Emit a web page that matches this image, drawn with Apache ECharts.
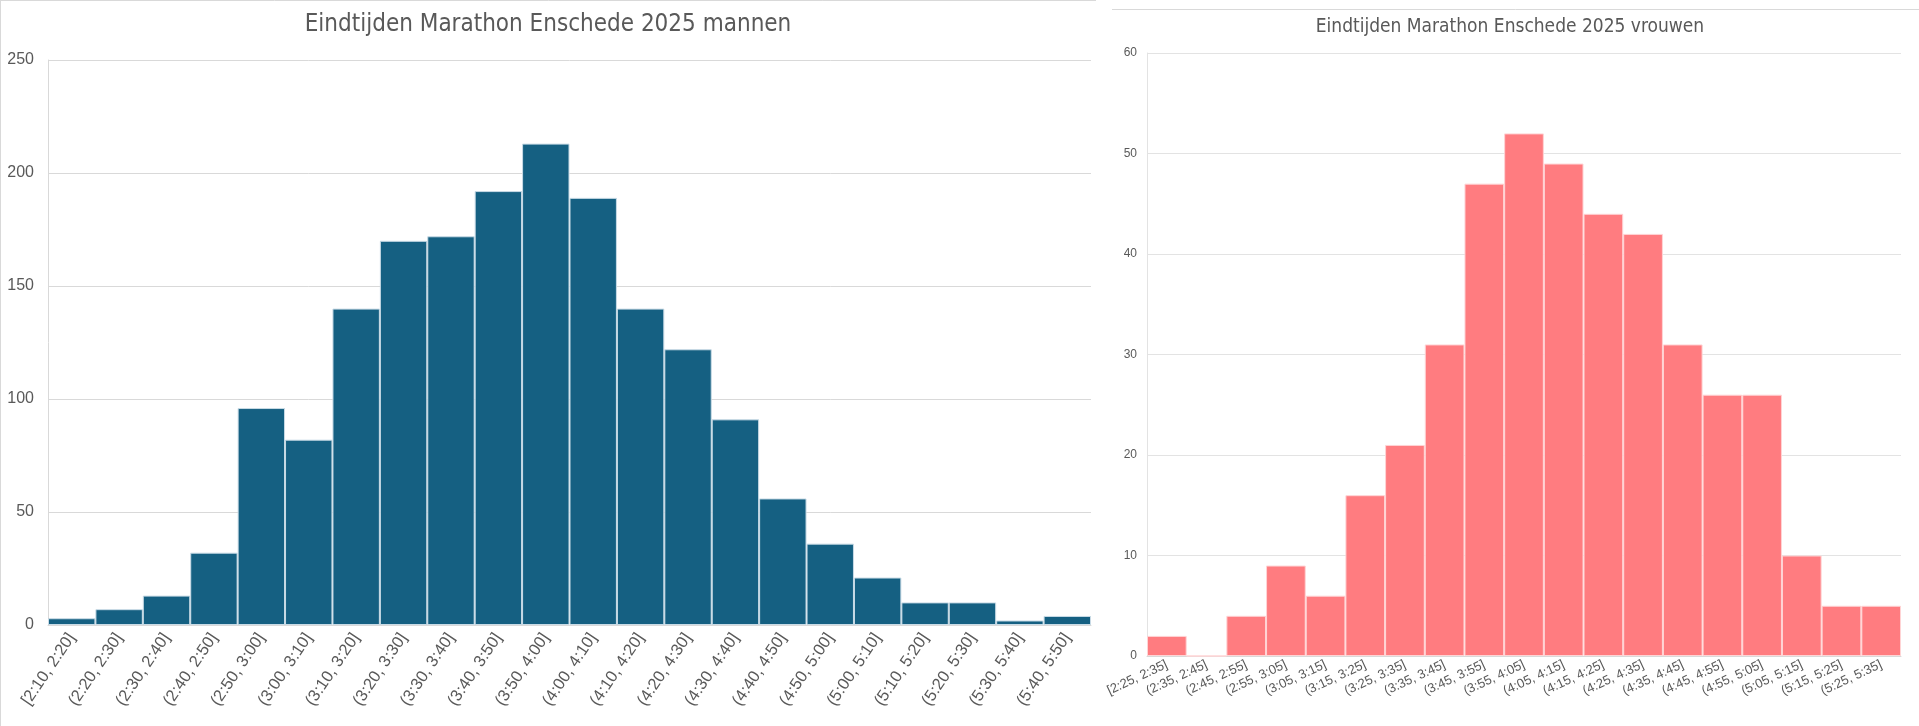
<!DOCTYPE html>
<html>
<head>
<meta charset="utf-8">
<script src="https://cdn.jsdelivr.net/npm/echarts@6/dist/echarts.min.js"></script>
<style>
html,body{margin:0;padding:0;background:#fff;}
#c{width:1919px;height:726px;}
</style>
</head>
<body>
<div id="c"></div>
<script>
const menCategories = ['[2:10, 2:20]','(2:20, 2:30]','(2:30, 2:40]','(2:40, 2:50]','(2:50, 3:00]','(3:00, 3:10]','(3:10, 3:20]','(3:20, 3:30]','(3:30, 3:40]','(3:40, 3:50]','(3:50, 4:00]','(4:00, 4:10]','(4:10, 4:20]','(4:20, 4:30]','(4:30, 4:40]','(4:40, 4:50]','(4:50, 5:00]','(5:00, 5:10]','(5:10, 5:20]','(5:20, 5:30]','(5:30, 5:40]','(5:40, 5:50]'];
const menValues = [3,7,13,32,96,82,140,170,172,192,213,189,140,122,91,56,36,21,10,10,2,4];
const womenCategories = ['[2:25, 2:35]','(2:35, 2:45]','(2:45, 2:55]','(2:55, 3:05]','(3:05, 3:15]','(3:15, 3:25]','(3:25, 3:35]','(3:35, 3:45]','(3:45, 3:55]','(3:55, 4:05]','(4:05, 4:15]','(4:15, 4:25]','(4:25, 4:35]','(4:35, 4:45]','(4:45, 4:55]','(4:55, 5:05]','(5:05, 5:15]','(5:15, 5:25]','(5:25, 5:35]'];
const womenValues = [2,0,4,9,6,16,21,31,47,52,49,44,42,31,26,26,10,5,5];
const menTitle = 'Eindtijden Marathon Enschede 2025 mannen';
const womenTitle = 'Eindtijden Marathon Enschede 2025 vrouwen';

const chart = echarts.init(document.getElementById('c'));
const titleFont = "'Liberation Sans Narrow','DejaVu Sans Condensed','Liberation Sans',sans-serif";
const labelFont = "'Liberation Sans','Arial',sans-serif";
chart.setOption({
  animation:false,
  backgroundColor:'#ffffff',
  graphic:[
    {type:'line', shape:{x1:0.5,y1:0.5,x2:1096,y2:0.5}, style:{stroke:'#d9d9d9',lineWidth:1}},
    {type:'line', shape:{x1:0.5,y1:0,x2:0.5,y2:726}, style:{stroke:'#d9d9d9',lineWidth:1}},
    {type:'line', shape:{x1:1112,y1:9.5,x2:1919,y2:9.5}, style:{stroke:'#d9d9d9',lineWidth:1}},
    {type:'text', x:548, y:25, style:{text:menTitle, textAlign:'center', textVerticalAlign:'middle', fill:'#595959', font:"24px "+titleFont}},
    {type:'text', x:1510, y:27, style:{text:womenTitle, textAlign:'center', textVerticalAlign:'middle', fill:'#595959', font:"19px "+titleFont}}
  ],
  grid:[
    {left:48, right:828, top:60, bottom:101},
    {left:1147, right:18, top:53, bottom:70}
  ],
  xAxis:[
    {type:'category', gridIndex:0, data:menCategories, boundaryGap:true,
     axisLine:{lineStyle:{color:'#d9d9d9'}}, axisTick:{show:false},
     axisLabel:{interval:0, rotate:56, color:'#595959', fontSize:16.5, fontFamily:labelFont, margin:10}},
    {type:'category', gridIndex:1, data:womenCategories, boundaryGap:true,
     axisLine:{lineStyle:{color:'#d9d9d9'}}, axisTick:{show:false},
     axisLabel:{interval:0, rotate:25, color:'#595959', fontSize:13, fontFamily:labelFont, margin:8}}
  ],
  yAxis:[
    {type:'value', gridIndex:0, min:0, max:250, interval:50,
     axisLine:{show:true, lineStyle:{color:'#d9d9d9'}}, axisTick:{show:false},
     splitLine:{lineStyle:{color:'#d9d9d9'}},
     axisLabel:{color:'#595959', fontSize:16, fontFamily:labelFont, margin:14}},
    {type:'value', gridIndex:1, min:0, max:60, interval:10,
     axisLine:{show:true, lineStyle:{color:'#e3e3e3'}}, axisTick:{show:false},
     splitLine:{lineStyle:{color:'#e3e3e3'}},
     axisLabel:{color:'#595959', fontSize:12, fontFamily:labelFont, margin:10}}
  ],
  series:[
    {type:'bar', xAxisIndex:0, yAxisIndex:0, data:menValues, barWidth:'100%', barCategoryGap:'0%',
     itemStyle:{color:'#156082', borderColor:'#c9dbe6', borderWidth:1}},
    {type:'bar', xAxisIndex:1, yAxisIndex:1, data:womenValues, barWidth:'100%', barCategoryGap:'0%',
     itemStyle:{color:'#ff7c80', borderColor:'#ffd4d5', borderWidth:1}}
  ]
});
</script>
</body>
</html>
